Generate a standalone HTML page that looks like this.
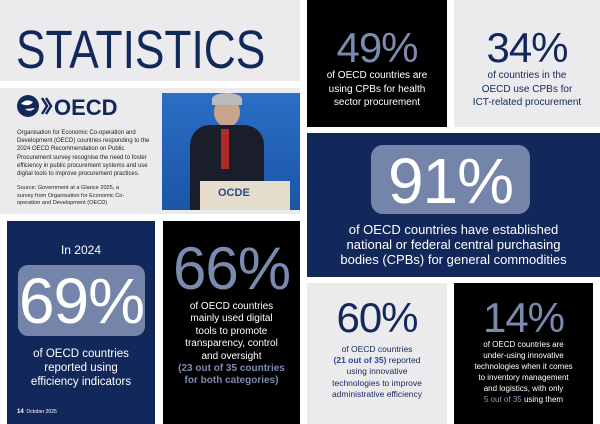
<!DOCTYPE html>
<html><head><style>
*{margin:0;padding:0;box-sizing:border-box}
body{width:600px;height:424px;background:#fff;font-family:"Liberation Sans",sans-serif;position:relative;overflow:hidden}
.b{position:absolute}
.c{text-align:center;white-space:nowrap}
.big{font-weight:normal;letter-spacing:-1px;line-height:1}
.t{font-size:10px;line-height:13.5px}
</style></head><body>
<div class="b" style="left:0;top:0;width:300px;height:81px;background:#ebebed"></div>
<div class="b" style="left:16px;top:23px;font-size:54px;color:#13285a;line-height:1;transform:scaleX(0.82);transform-origin:left top;white-space:nowrap">STATISTICS</div>
<div class="b" style="left:0;top:88px;width:300px;height:126px;background:#ebebed"></div>
<svg class="b" style="left:17px;top:95px" width="100" height="24"><circle cx="11" cy="11" r="11" fill="#13285a"/><path d="M4 9 q5-6 12-2 q-3 4-8 3z M8 14 q5 4 10-1" fill="#fff"/><path d="M25 3 l5 8 l-5 8 M29 3 l5 8 l-5 8" stroke="#13285a" stroke-width="2.5" fill="none"/><text x="37" y="20" font-family="Liberation Sans" font-size="22" fill="#13285a" font-weight="bold">OECD</text></svg>
<div class="b" style="left:17px;top:129px;width:140px;font-size:6px;line-height:8.2px;color:#222">Organisation for Economic Co-operation and Development (OECD) countries responding to the 2024 OECD Recommendation on Public Procurement survey recognise the need to foster efficiency in public procurement systems and use digital tools to improve procurement practices.</div>
<div class="b" style="left:17px;top:185px;width:110px;font-size:5.6px;line-height:7.5px;color:#222">Source: Government at a Glance 2025, a survey from Organisation for Economic Co-operation and Development (OECD)</div>
<div class="b" style="left:162px;top:93px;width:138px;height:117px;background:linear-gradient(180deg,#2a6fc4,#1b55a8);overflow:hidden">
<div class="b" style="left:52px;top:4px;width:26px;height:30px;border-radius:50%;background:#c9a48c"></div>
<div class="b" style="left:50px;top:0;width:30px;height:12px;border-radius:50% 50% 0 0;background:#bbb"></div>
<div class="b" style="left:28px;top:32px;width:74px;height:85px;border-radius:20px 20px 0 0;background:#1a1e2a"></div>
<div class="b" style="left:59px;top:36px;width:8px;height:40px;background:#b02a2a"></div>
<div class="b" style="left:38px;top:88px;width:90px;height:29px;background:#e6dccb"></div>
<div class="b" style="left:56px;top:94px;font-size:11px;color:#2a4a8a;font-weight:bold">OCDE</div>
</div>
<div class="b" style="left:307px;top:0;width:140px;height:127px;background:#000"></div>
<div class="b c big" style="left:307px;top:27px;width:140px;font-size:42px;color:#7b8bb0">49%</div>
<div class="b c t" style="left:307px;top:69px;width:140px;color:#fff">of OECD countries are<br>using CPBs for health<br>sector procurement</div>
<div class="b" style="left:454px;top:0;width:146px;height:127px;background:#ebebed"></div>
<div class="b c big" style="left:454px;top:27px;width:146px;font-size:42px;color:#13285a">34%</div>
<div class="b c t" style="left:454px;top:69px;width:146px;color:#13285a">of countries in the<br>OECD use CPBs for<br>ICT-related procurement</div>
<div class="b" style="left:307px;top:133px;width:293px;height:144px;background:#13285a"></div>
<div class="b" style="left:371px;top:145px;width:159px;height:69px;border-radius:12px;background:#7585aa"></div>
<div class="b c big" style="left:371px;top:149px;width:159px;font-size:64px;color:#fff">91%</div>
<div class="b c" style="left:307px;top:222px;width:293px;font-size:13px;line-height:15px;color:#fff">of OECD countries have established<br>national or federal central purchasing<br>bodies (CPBs) for general commodities</div>
<div class="b" style="left:7px;top:221px;width:148px;height:203px;background:#13285a"></div>
<div class="b c" style="left:7px;top:243px;width:148px;font-size:12px;color:#fff">In 2024</div>
<div class="b" style="left:18px;top:265px;width:127px;height:71px;border-radius:10px;background:#7585aa"></div>
<div class="b c big" style="left:18px;top:269px;width:127px;font-size:64px;color:#fff">69%</div>
<div class="b c" style="left:7px;top:347px;width:148px;font-size:11.5px;line-height:14px;color:#fff">of OECD countries<br>reported using<br>efficiency indicators</div>
<div class="b" style="left:17px;top:409px;font-size:5px;color:#fff"><b style="font-size:6px">14</b>&nbsp; October 2025</div>
<div class="b" style="left:163px;top:221px;width:137px;height:203px;background:#000"></div>
<div class="b c big" style="left:163px;top:239px;width:137px;font-size:60px;color:#7b8bb0">66%</div>
<div class="b c" style="left:163px;top:301px;width:137px;font-size:10px;line-height:12.4px;color:#fff">of OECD countries<br>mainly used digital<br>tools to promote<br>transparency, control<br>and oversight<br><span style="color:#7b8bb0;font-weight:bold">(23 out of 35 countries<br>for both categories)</span></div>
<div class="b" style="left:307px;top:283px;width:140px;height:141px;background:#ebebed"></div>
<div class="b c big" style="left:307px;top:297px;width:140px;font-size:42px;color:#13285a">60%</div>
<div class="b c" style="left:307px;top:344px;width:140px;font-size:8.5px;line-height:11.2px;color:#13285a">of OECD countries<br><b style="color:#2a4a9a">(21 out of 35)</b> reported<br>using innovative<br>technologies to improve<br>administrative efficiency</div>
<div class="b" style="left:454px;top:283px;width:139px;height:141px;background:#000"></div>
<div class="b c big" style="left:454px;top:297px;width:139px;font-size:42px;color:#7b8bb0">14%</div>
<div class="b c" style="left:454px;top:339px;width:139px;font-size:8px;line-height:11px;color:#fff">of OECD countries are<br>under-using innovative<br>technologies when it comes<br>to inventory management<br>and logistics, with only<br><span style="color:#8e9cc0">5 out of 35</span> using them</div>
</body></html>
